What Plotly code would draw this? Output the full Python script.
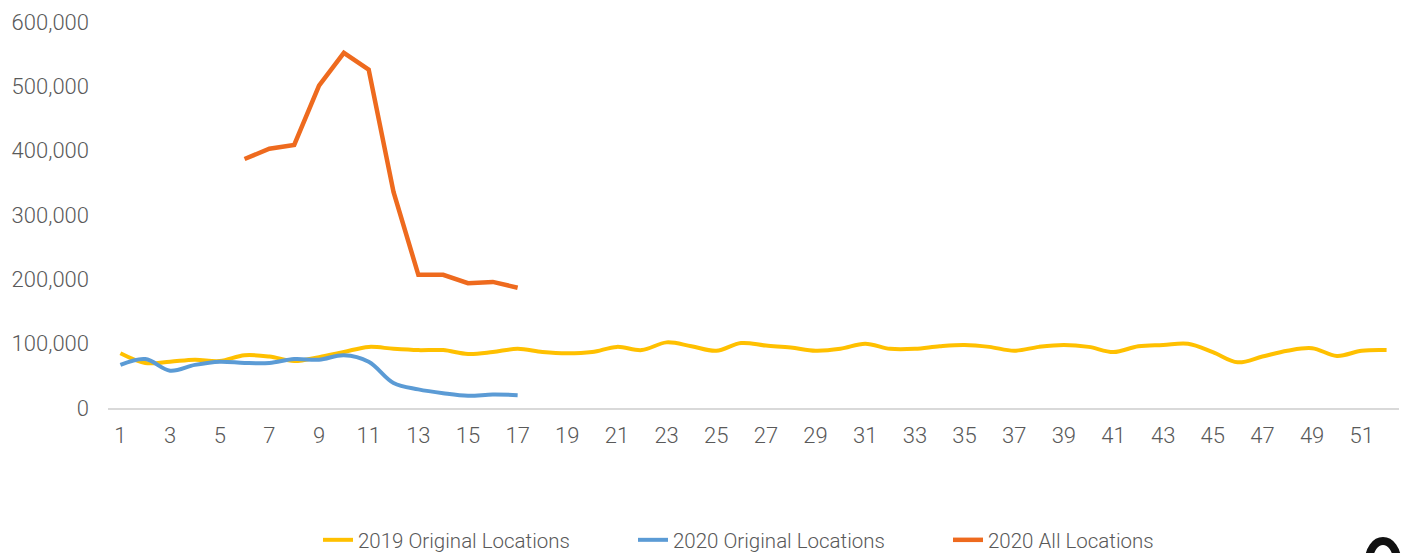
import plotly.graph_objects as go

weeks = [str(w) for w in range(1, 53)]

y2019_orig = [85000, 70000, 72000, 75000, 73000, 82000, 80000, 73000, 79000, 87000,
              95000, 92000, 90000, 90000, 84000, 87000, 92000, 87000, 85000, 87000,
              95000, 90000, 102000, 96000, 89000, 101000, 97000, 94000, 89000, 92000,
              100000, 92000, 92000, 96000, 98000, 95000, 89000, 95000, 98000, 95000,
              87000, 96000, 98000, 100000, 87000, 71000, 80000, 89000, 93000, 81000,
              89000, 90000]

y2020_orig = [67000, 76000, 58000, 67000, 72000, 70000, 70000, 76000, 75000, 82000,
              72000, 39000, 29000, 23000, 19000, 21000, 20000]

y2020_all = [None, None, None, None, None, 387000, 403000, 409000, 501000, 552000,
             526000, 336000, 207000, 207000, 194000, 196000, 187000]

tick_vals = [str(w) for w in range(1, 53, 2)]

FONT = "Roboto Light, Roboto"
GRAY = "#595959"

fig = go.Figure()
fig.add_trace(go.Scatter(x=weeks, y=y2019_orig, name="2019 Original Locations",
                         mode="lines", line=dict(color="#FFC000", width=4, shape="spline", smoothing=1.0)))
fig.add_trace(go.Scatter(x=weeks[:len(y2020_orig)], y=y2020_orig, name="2020 Original Locations",
                         mode="lines", line=dict(color="#5B9BD5", width=4, shape="spline", smoothing=1.0)))
fig.add_trace(go.Scatter(x=weeks[:len(y2020_all)], y=y2020_all, name="2020 All Locations",
                         mode="lines", line=dict(color="#EE6A1E", width=4.5), connectgaps=False))

PL, PR, PT, PB = 108, 4, 22, 145
W, H = 1403, 553
pw, ph = W - PL - PR, H - PT - PB


def px2paper(x, y):
    return (x - PL) / pw, (H - PB - y) / ph


fig.update_layout(
    width=W, height=H,
    margin=dict(l=PL, r=PR, t=PT, b=PB, autoexpand=False),
    paper_bgcolor="white", plot_bgcolor="white",
    font=dict(family=FONT, size=20, color=GRAY, weight=300),
    showlegend=True,
    legend=dict(orientation="h", xref="container", x=318 / W, xanchor="left",
                yref="container", y=(H - 540) / H, yanchor="middle",
                font=dict(family=FONT, size=20.5, color=GRAY, weight=300),
                entrywidth=270, entrywidthmode="pixels", traceorder="normal"),
    xaxis=dict(type="category", categoryorder="array", categoryarray=weeks,
               range=[-0.5, 51.5], tickmode="array", tickvals=tick_vals, ticktext=tick_vals,
               showgrid=False, showline=True, linecolor="#D9D9D9", linewidth=2,
               ticks="", ticklabelstandoff=7, zeroline=False, automargin=False,
               tickfont=dict(family=FONT, size=22, color=GRAY, weight=300)),
    yaxis=dict(range=[0, 600000], tickvals=[0, 100000, 200000, 300000, 400000, 500000, 600000],
               tickformat=",d", showgrid=False, showline=False, zeroline=False,
               ticks="", ticklabelstandoff=18, automargin=False,
               tickfont=dict(family=FONT, size=22, color=GRAY, weight=300)),
)

# partially visible dark logo mark in the bottom-right corner
x0, y0 = px2paper(1369, 541)
x1, y1 = px2paper(1397, 580)
fig.add_shape(type="circle", xref="paper", yref="paper", x0=x0, x1=x1, y0=y1, y1=y0,
              line=dict(color="#111111", width=8), fillcolor="rgba(0,0,0,0)", layer="above")

fig.write_html("out.html", config={"displayModeBar": False},
               post_script="document.body.style.margin='0';document.body.style.overflow='hidden';")
